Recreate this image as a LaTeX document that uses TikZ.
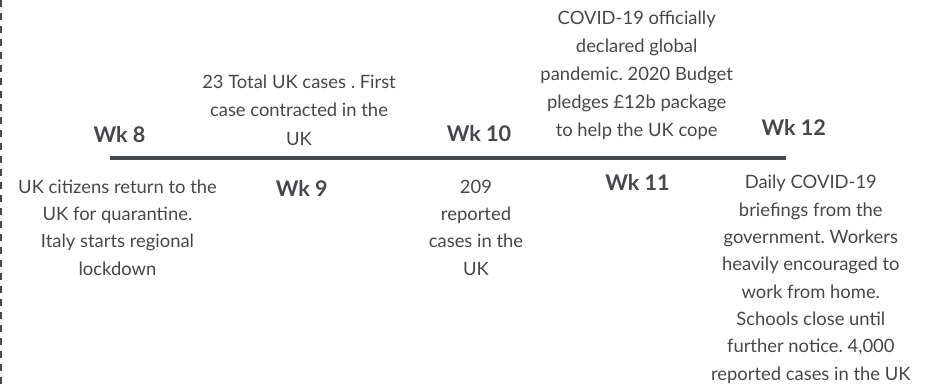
\documentclass[tikz,border=0pt]{standalone}
\usepackage{fontspec}
\setmainfont{Lato}
\frenchspacing
\definecolor{ink}{HTML}{45474A}
\definecolor{rule}{HTML}{45484B}
\tikzset{
  wk/.style={anchor=base, inner sep=0pt, text=ink, font={\fontsize{21.6}{26}\selectfont\bfseries}},
  desctop/.style={anchor=base, inner sep=0pt, align=center, text=ink, font={\fontsize{18.4}{28.1}\selectfont}},
  descbot/.style={anchor=base, inner sep=0pt, align=center, text=ink, font={\fontsize{18.4}{27.3}\selectfont}},
}
\begin{document}
\begin{tikzpicture}[x=1pt,y=-1pt]
\useasboundingbox (0,0) rectangle (934,386);
\coordinate (dtop) at (1,0);
\coordinate (dbot) at (1,386);
\draw[rule, line width=2pt, dash pattern=on 7pt off 6pt] (dtop) -- (dbot);
\coordinate (tl0) at (109.5,158);
\coordinate (tl1) at (785.7,158);
\draw[rule, line width=4pt] (tl0) -- (tl1);
\node[wk] (w8) at (119.5,142) {Wk 8};
\node[wk] (w9) at (301.7,196.7) {Wk 9};
\node[wk] (w10) at (479,141.7) {Wk 10};
\node[wk] (w11) at (637.5,190) {Wk 11};
\node[wk] (w12) at (793.8,135.7) {Wk 12};
\node[desctop] (d9) at (299,145) {23 Total UK cases . First\\case contracted in the\\UK};
\node[desctop] (d11) at (636.7,136.7) {COVID-19 officially\\declared global\\pandemic. 2020 Budget\\pledges £12b package\\to help the UK cope};
\node[descbot] (d8) at (117.5,275.2) {UK citizens return to the\\UK for quarantine.\\Italy starts regional\\lockdown};
\node[descbot] (d10) at (476,275.2) {209\\reported\\cases in the\\UK};
\node[descbot] (d12) at (810.8,380) {Daily COVID-19\\briefings from the\\government. Workers\\heavily encouraged to\\work from home.\\Schools close until\\further notice. 4,000\\reported cases in the UK};
\end{tikzpicture}
\end{document}
